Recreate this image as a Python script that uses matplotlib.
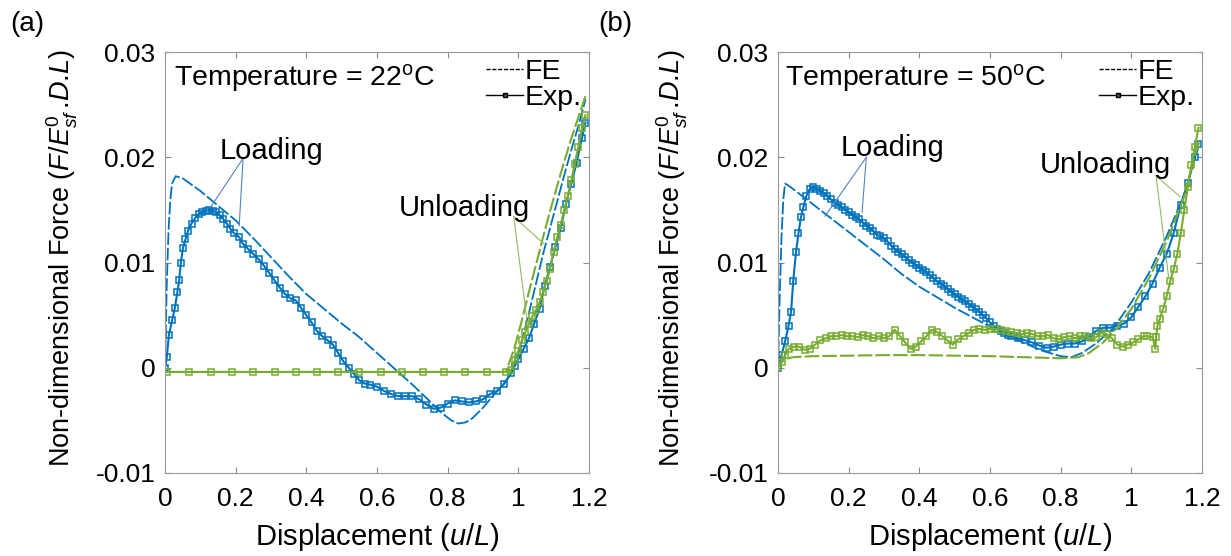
import numpy as np
import matplotlib
matplotlib.use('Agg')
import matplotlib.pyplot as plt

plt.rcParams['font.family'] = ['Liberation Sans', 'DejaVu Sans']
plt.rcParams['mathtext.fontset'] = 'custom'
plt.rcParams['mathtext.rm'] = 'Liberation Sans'
plt.rcParams['mathtext.it'] = 'Liberation Sans:italic'
plt.rcParams['font.size'] = 19

BLUE = '#0072BD'
GREEN = '#77AC30'

# ---------------- (a) 22 C ----------------
# FE loading
a_fe_load_x = [0, 0.005, 0.01, 0.015, 0.02, 0.03, 0.05, 0.1, 0.15, 0.2, 0.25, 0.3, 0.35, 0.4,
               0.45, 0.5, 0.55, 0.6, 0.65, 0.7, 0.75, 0.78, 0.81, 0.83, 0.85, 0.87, 0.9, 0.93,
               0.96, 0.98, 0.99, 1.01, 1.03, 1.05, 1.07, 1.09, 1.11, 1.13, 1.15, 1.17, 1.19]
a_fe_load_y = [0, 8.0, 13.0, 16.0, 17.5, 18.2, 18.0, 16.8, 15.4, 14.0, 12.3, 10.5, 8.7, 7.0,
               5.6, 4.2, 2.9, 1.4, -0.1, -1.6, -3.2, -4.2, -5.0, -5.3, -5.2, -4.8, -3.8, -2.6,
               -1.5, -0.5, 0.2, 2.5, 5.2, 8.0, 10.8, 13.3, 15.8, 18.3, 20.7, 23.0, 25.5]
# FE unloading
a_fe_unl_x = [1.19, 1.17, 1.15, 1.13, 1.11, 1.09, 1.07, 1.05, 1.03, 1.01, 0.99, 0.965, 0.5, 0.0]
a_fe_unl_y = [25.8, 23.8, 21.8, 19.6, 17.3, 14.9, 12.4, 9.8, 7.2, 4.5, 2.0, -0.4, -0.4, -0.4]
# Exp loading
a_ex_load_x = [0, 0.005, 0.011, 0.02, 0.028, 0.035, 0.04, 0.045, 0.051, 0.058, 0.065, 0.075,
               0.085, 0.095, 0.105, 0.115, 0.125, 0.135, 0.145, 0.155, 0.165, 0.175, 0.185,
               0.195, 0.21, 0.22, 0.235, 0.25, 0.265, 0.28, 0.295, 0.31, 0.325, 0.34, 0.355,
               0.37, 0.385, 0.40, 0.415, 0.43, 0.445, 0.46, 0.475, 0.49, 0.505, 0.52, 0.535,
               0.55, 0.565, 0.58, 0.60, 0.62, 0.64, 0.66, 0.68, 0.70, 0.72, 0.74, 0.76, 0.78,
               0.80, 0.82, 0.84, 0.86, 0.88, 0.90, 0.92, 0.94, 0.96, 0.98, 0.99, 1.0, 1.015,
               1.03, 1.045, 1.06, 1.075, 1.09, 1.105, 1.12, 1.135, 1.15, 1.165, 1.18, 1.19]
a_ex_load_y = [0, 1.0, 3.1, 4.5, 5.7, 7.2, 8.3, 10.0, 11.4, 12.2, 13.0, 13.7,
               14.2, 14.6, 14.8, 14.9, 15.0, 14.9, 14.8, 14.5, 14.1, 13.7, 13.2,
               12.8, 12.4, 11.8, 11.3, 10.8, 10.3, 9.7, 9.0, 8.3, 7.6, 7.0, 6.6,
               6.4, 5.7, 5.0, 4.3, 3.5, 3.0, 2.6, 2.2, 1.4, 0.6, 0.0, -0.6,
               -1.2, -1.5, -1.6, -1.8, -2.2, -2.5, -2.7, -2.7, -2.7, -3.0, -3.5, -3.9, -3.8,
               -3.4, -3.1, -3.2, -3.3, -3.2, -3.0, -2.5, -2.2, -1.5, -0.5, 0.2, 0.8, 1.8,
               2.8, 4.2, 5.6, 7.8, 9.6, 11.5, 13.3, 15.6, 17.5, 19.5, 21.8, 23.3]
# Exp unloading
a_ex_unl_x = [1.19, 1.18, 1.17, 1.16, 1.15, 1.14, 1.13, 1.12, 1.11, 1.10, 1.09, 1.08, 1.07,
              1.06, 1.05, 1.04, 1.03, 1.02, 1.01, 1.00, 0.99, 0.98, 0.965, 0.91, 0.85, 0.79,
              0.73, 0.67, 0.61, 0.55, 0.49, 0.43, 0.37, 0.31, 0.25, 0.19, 0.13, 0.068, 0.006]
a_ex_unl_y = [24.0, 22.8, 21.0, 19.4, 17.8, 16.3, 15.0, 13.6, 12.4, 11.0, 9.4, 8.2, 7.2,
              6.2, 5.5, 4.9, 4.2, 3.4, 2.6, 1.6, 0.7, -0.2, -0.4, -0.4, -0.4, -0.4,
              -0.4, -0.4, -0.4, -0.4, -0.4, -0.4, -0.4, -0.4, -0.4, -0.4, -0.4, -0.4, -0.4]

# ---------------- (b) 50 C ----------------
b_fe_load_x = [0, 0.005, 0.01, 0.015, 0.02, 0.03, 0.05, 0.1, 0.15, 0.2, 0.25, 0.3, 0.35, 0.4,
               0.45, 0.5, 0.55, 0.6, 0.65, 0.7, 0.75, 0.8, 0.83, 0.86, 0.9, 0.95, 1.0, 1.05,
               1.1, 1.15, 1.19]
b_fe_load_y = [0, 7.0, 12.5, 16.0, 17.5, 17.3, 16.8, 15.5, 14.2, 12.9, 11.6, 10.3, 8.9, 7.7,
               6.7, 5.7, 4.8, 3.9, 3.1, 2.3, 1.6, 1.1, 1.0, 1.4, 2.3, 3.8, 6.2, 9.0,
               12.5, 16.5, 21.0]
b_fe_unl_x = [1.19, 1.15, 1.1, 1.05, 1.0, 0.96, 0.92, 0.88, 0.85, 0.8, 0.7, 0.6, 0.5, 0.4,
              0.3, 0.2, 0.1, 0.04, 0.02, 0.01, 0.0]
b_fe_unl_y = [21.5, 16.3, 12.0, 8.5, 5.6, 3.8, 2.4, 1.4, 1.0, 0.9, 1.0, 1.1, 1.15, 1.2,
              1.2, 1.15, 1.1, 1.0, 0.8, 0.5, 0.0]
b_ex_load_x = [0, 0.01, 0.02, 0.03, 0.037, 0.043, 0.051, 0.058, 0.065, 0.072, 0.08, 0.09,
               0.1, 0.11, 0.12, 0.13, 0.14, 0.15, 0.16, 0.17, 0.18, 0.19, 0.2, 0.21, 0.22,
               0.23, 0.24, 0.25, 0.26, 0.27, 0.28, 0.29, 0.30, 0.31, 0.32, 0.33, 0.34, 0.35,
               0.36, 0.37, 0.38, 0.39, 0.40, 0.41, 0.42, 0.43, 0.44, 0.45, 0.46, 0.47, 0.48,
               0.49, 0.50, 0.51, 0.52, 0.53, 0.54, 0.55, 0.56, 0.57, 0.58, 0.59, 0.60, 0.61,
               0.62, 0.63, 0.64, 0.65, 0.66, 0.68, 0.70, 0.72, 0.74, 0.76, 0.78, 0.80, 0.82,
               0.84, 0.86, 0.88, 0.90, 0.92, 0.94, 0.96, 0.98, 1.00, 1.02, 1.04, 1.06, 1.08,
               1.10, 1.12, 1.14, 1.16, 1.18, 1.19]
b_ex_load_y = [0, 1.2, 2.5, 4.0, 5.3, 8.2, 11.0, 12.8, 14.3, 15.3, 16.3, 17.0,
               17.2, 17.0, 16.8, 16.6, 16.3, 16.0, 15.7, 15.5, 15.3, 15.0, 14.8, 14.5, 14.3,
               14.1, 13.8, 13.5, 13.3, 13.0, 12.6, 12.5, 12.3, 12.0, 11.6, 11.3, 11.0, 10.8,
               10.5, 10.2, 10.0, 9.8, 9.5, 9.3, 9.1, 8.8, 8.5, 8.2, 8.0, 7.8, 7.5,
               7.2, 7.0, 6.7, 6.5, 6.3, 6.1, 5.8, 5.6, 5.3, 5.0, 4.7, 4.3, 4.0,
               3.7, 3.5, 3.3, 3.1, 3.0, 2.8, 2.6, 2.4, 2.1, 1.9, 2.0, 2.2, 2.3,
               2.3, 2.5, 2.9, 3.5, 3.8, 3.8, 4.0, 4.2, 4.8, 5.8, 6.8, 8.0, 9.5,
               10.8, 12.8, 15.5, 17.6, 20.0, 21.3]
b_ex_unl_x = [1.19, 1.18, 1.17, 1.16, 1.15, 1.14, 1.13, 1.12, 1.11, 1.10, 1.09, 1.08, 1.074,
              1.07, 1.068, 1.06, 1.045, 1.035, 1.02, 1.005, 0.99, 0.975, 0.96, 0.945, 0.93,
              0.915, 0.90, 0.885, 0.87, 0.855, 0.84, 0.825, 0.81, 0.795, 0.78, 0.765, 0.75,
              0.735, 0.72, 0.705, 0.69, 0.675, 0.66, 0.645, 0.63, 0.615, 0.60, 0.585, 0.57,
              0.555, 0.54, 0.525, 0.51, 0.495, 0.48, 0.465, 0.45, 0.435, 0.42, 0.405, 0.39,
              0.375, 0.36, 0.345, 0.33, 0.315, 0.30, 0.285, 0.27, 0.255, 0.24, 0.225, 0.21,
              0.195, 0.18, 0.165, 0.15, 0.135, 0.12, 0.105, 0.09, 0.075, 0.06, 0.045, 0.03,
              0.02, 0.01, 0.0]
b_ex_unl_y = [22.8, 21.0, 19.3, 17.2, 15.0, 12.8, 10.8, 9.4, 8.2, 6.8, 5.6, 4.6, 4.0,
              2.9, 1.8, 2.9, 3.0, 3.0, 2.7, 2.4, 2.2, 2.0, 2.2, 2.8, 3.2,
              3.3, 2.9, 2.8, 3.0, 3.0, 2.8, 3.0, 2.9, 2.7, 2.8, 3.1, 3.0,
              3.0, 3.2, 3.3, 3.2, 3.3, 3.4, 3.5, 3.6, 3.7, 3.7, 3.6, 3.7,
              3.6, 3.3, 3.0, 2.7, 2.2, 2.6, 3.0, 3.4, 3.6, 3.0, 2.5, 2.0,
              1.8, 2.4, 3.0, 3.6, 3.0, 2.8, 3.0, 2.8, 3.0, 3.1, 2.9, 3.0,
              3.0, 3.1, 3.0, 3.0, 2.8, 2.6, 2.2, 1.8, 1.7, 2.0, 2.0, 1.8,
              1.2, 0.5, 0.1]

yticks = [-0.01, 0, 0.01, 0.02, 0.03]
ytick_labels = ['-0.01', '0', '0.01', '0.02', '0.03']
xticks = [0, 0.2, 0.4, 0.6, 0.8, 1.0, 1.2]
xtick_labels = ['0', '0.2', '0.4', '0.6', '0.8', '1', '1.2']

panels = [
    dict(fe_l=(a_fe_load_x, a_fe_load_y), fe_u=(a_fe_unl_x, a_fe_unl_y),
         ex_l=(a_ex_load_x, a_ex_load_y), ex_u=(a_ex_unl_x, a_ex_unl_y),
         temp='Temperature = 22$^{\\rm o}$C', tag='(a)',
         load_txt=(0.156, 0.0198), load_src=(0.221, 0.0199),
         load_tgt=[(0.128, 0.0152), (0.210, 0.0135)],
         unl_txt=(0.661, 0.01444), unl_src=(0.987, 0.01435),
         unl_tgt=[(1.072, 0.0118), (1.024, 0.00466)]),
    dict(fe_l=(b_fe_load_x, b_fe_load_y), fe_u=(b_fe_unl_x, b_fe_unl_y),
         ex_l=(b_ex_load_x, b_ex_load_y), ex_u=(b_ex_unl_x, b_ex_unl_y),
         temp='Temperature = 50$^{\\rm o}$C', tag='(b)',
         load_txt=(0.176, 0.0201), load_src=(0.250, 0.0200),
         load_tgt=[(0.133, 0.0144), (0.238, 0.0148)],
         unl_txt=(0.740, 0.01853), unl_src=(1.070, 0.01824),
         unl_tgt=[(1.138, 0.01625), (1.106, 0.00846)]),
]

fig = plt.figure(figsize=(12.31, 5.56), dpi=100)
lefts = [165 / 1231, 778 / 1231]
tag_x = [10 / 1231, 598 / 1231]

for k, p in enumerate(panels):
    ax = fig.add_axes([lefts[k], 83 / 556, 424 / 1231, 421 / 556])
    sc = 1e-3
    ax.plot(p['fe_l'][0], np.array(p['fe_l'][1]) * sc, color=BLUE, lw=1.3, dashes=(7, 1.5))
    ax.plot(p['ex_l'][0], np.array(p['ex_l'][1]) * sc, color=BLUE, lw=1.5, marker='s',
            ms=4.6, mfc='none', mew=1.1)
    ax.plot(p['fe_u'][0], np.array(p['fe_u'][1]) * sc, color=GREEN, lw=1.5, dashes=(7, 1.5))
    ax.plot(p['ex_u'][0], np.array(p['ex_u'][1]) * sc, color=GREEN, lw=1.5, marker='s',
            ms=4.6, mfc='none', mew=1.1)

    # legend handles
    h1, = ax.plot([], [], color='k', lw=1.0, dashes=(3, 1.2))
    h2, = ax.plot([], [], color='k', lw=1.0, marker='s', ms=3, mfc='0.3', mec='k')
    ax.legend([h1, h2], ['FE', 'Exp.'], loc='upper right', frameon=False,
              handlelength=1.3, handletextpad=0.05, labelspacing=0.0,
              borderaxespad=0.05, borderpad=0.2, fontsize=20.5)

    ax.text(0.022 if k == 0 else 0.017, 0.92, p['temp'], transform=ax.transAxes,
            ha='left', va='baseline', fontsize=20.5)

    ax.text(p['load_txt'][0], p['load_txt'][1], 'Loading', ha='left', va='baseline', fontsize=21)
    for t in p['load_tgt']:
        ax.plot([p['load_src'][0], t[0]], [p['load_src'][1], t[1]], color='#4f86c0', lw=0.8)
    ax.text(p['unl_txt'][0], p['unl_txt'][1], 'Unloading', ha='left', va='baseline', fontsize=21)
    for t in p['unl_tgt']:
        ax.plot([p['unl_src'][0], t[0]], [p['unl_src'][1], t[1]], color='#93bb5f', lw=0.8)

    ax.set_xlim(0, 1.2)
    ax.set_ylim(-0.01, 0.03)
    ax.set_xticks(xticks)
    ax.set_xticklabels(xtick_labels)
    ax.set_yticks(yticks)
    ax.set_yticklabels(ytick_labels)
    ax.tick_params(direction='in', length=4, width=0.8, color='0.55', top=True, right=True,
                   labelsize=19)
    ax.tick_params(axis='x', pad=10)
    ax.tick_params(axis='y', pad=7)
    for s in ax.spines.values():
        s.set_color('0.6')
        s.set_linewidth(0.8)

    ax.set_xlabel('Displacement ($u/L$)', fontsize=21)
    ax.xaxis.set_label_coords(0.5, -0.152)
    ax.xaxis.label.set_va('center')
    ax.set_ylabel('Non-dimensional Force ($F/E^{\\mathit{0}}_{sf}\\,\\text{.}D\\text{.}L$)',
                  fontsize=19.5)
    ax.yaxis.set_label_coords(-0.243 if k == 0 else -0.25, 0.51)
    ax.yaxis.label.set_va('center')

    fig.text(tag_x[k], 1 - 24 / 556, p['tag'], ha='left', va='center', fontsize=20)

plt.savefig('out.png', dpi=100)
